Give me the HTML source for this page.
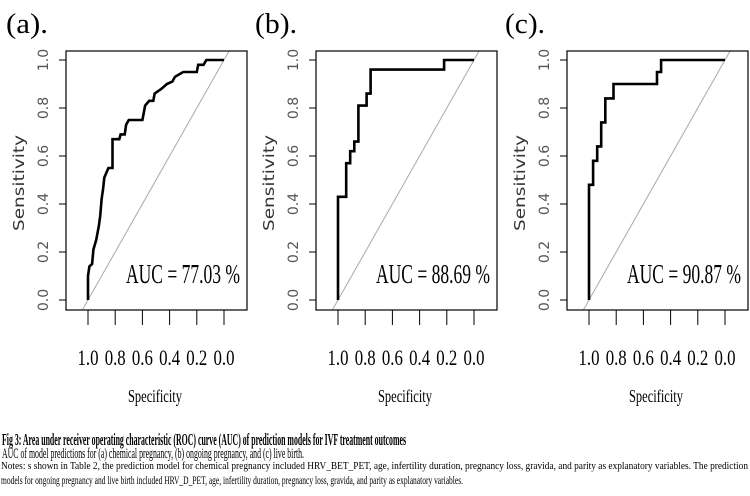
<!DOCTYPE html>
<html><head><meta charset="utf-8"><style>
html,body{margin:0;padding:0;background:#fff;}
svg{display:block;}
</style></head><body>
<svg id="fig" width="750" height="496" viewBox="0 0 750 496" xmlns="http://www.w3.org/2000/svg">
<g font-family="Liberation Serif, serif" fill="#000">
<text x="6" y="33" font-size="28" textLength="42" lengthAdjust="spacingAndGlyphs">(a).</text>
<text x="255" y="33" font-size="28" textLength="42" lengthAdjust="spacingAndGlyphs">(b).</text>
<text x="505" y="33" font-size="28" textLength="40" lengthAdjust="spacingAndGlyphs">(c).</text>
<text x="2" y="445" font-size="16.5" font-weight="bold" textLength="404" lengthAdjust="spacingAndGlyphs">Fig 3: Area under receiver operating characteristic (ROC) curve (AUC) of prediction models for IVF treatment outcomes</text>
<text x="2" y="458" font-size="15" textLength="302" lengthAdjust="spacingAndGlyphs">AUC of model predictions for (a) chemical pregnancy, (b) ongoing pregnancy, and (c) live birth.</text>
<text x="1" y="469" font-size="11" textLength="747" lengthAdjust="spacingAndGlyphs">Notes: s shown in Table 2, the prediction model for chemical pregnancy included HRV_BET_PET, age, infertility duration, pregnancy loss, gravida, and parity as explanatory variables. The prediction</text>
<text x="1" y="484" font-size="11.5" textLength="462" lengthAdjust="spacingAndGlyphs">models for ongoing pregnancy and live birth included HRV_D_PET, age, infertility duration, pregnancy loss, gravida, and parity as explanatory variables.</text>
</g>
</svg>
<script>
// Panel (a) chemical pregnancy
const specA = [1.0,1.0,0.99,0.97,0.96,0.94,0.92,0.91,0.90,0.89,0.88,0.85,0.82,0.82,0.77,0.76,0.73,0.72,0.70,0.60,0.59,0.58,0.55,0.52,0.51,0.46,0.42,0.38,0.36,0.30,0.20,0.19,0.15,0.13,0.0];
const sensA = [0,0.10,0.14,0.15,0.21,0.25,0.31,0.35,0.42,0.46,0.51,0.55,0.55,0.67,0.67,0.69,0.69,0.73,0.75,0.75,0.78,0.81,0.83,0.83,0.86,0.88,0.90,0.91,0.93,0.95,0.95,0.98,0.98,1.0,1.0];
// Panel (b) ongoing pregnancy
const specB = [1,1,0.94,0.94,0.91,0.91,0.88,0.88,0.85,0.85,0.79,0.79,0.76,0.76,0.22,0.22,0];
const sensB = [0,0.43,0.43,0.57,0.57,0.62,0.62,0.66,0.66,0.81,0.81,0.86,0.86,0.96,0.96,1,1];
// Panel (c) live birth
const specC = [1,1,0.97,0.97,0.94,0.94,0.91,0.91,0.88,0.88,0.82,0.82,0.50,0.50,0.47,0.47,0];
const sensC = [0,0.48,0.48,0.58,0.58,0.64,0.64,0.74,0.74,0.84,0.84,0.90,0.90,0.95,0.95,1,1];
const aucLabels = ["AUC = 77.03 %","AUC = 88.69 %","AUC = 90.87 %"];
const tickVals = [1.0,0.8,0.6,0.4,0.2,0.0];
const xTickLabels = ["1.0","0.8","0.6","0.4","0.2","0.0"];
const yTickVals = [0.0,0.2,0.4,0.6,0.8,1.0];
const yTickLabels = ["0.0","0.2","0.4","0.6","0.8","1.0"];

const NS = "http://www.w3.org/2000/svg";
const svg = document.getElementById('fig');
function mk(tag, attrs, parent){
  const e = document.createElementNS(NS, tag);
  for (const k in attrs) e.setAttribute(k, attrs[k]);
  (parent||svg).appendChild(e);
  return e;
}
const panels = [
  {off:0, spec:specA, sens:sensA, id:'a'},
  {off:250, spec:specB, sens:sensB, id:'b'},
  {off:501, spec:specC, sens:sensC, id:'c'}
];
panels.forEach((p, i) => {
  const o = p.off;
  const g = mk('g', {});
  
  
  const bx0 = 66 + o, bx1 = 247 + o, by0 = 51, by1 = 310;
  const X = s => (88 + o) + (1 - s) * 136;
  const Y = v => 300 - v * 240;
  const clip = mk('clipPath', {id:'clip' + p.id}, g);
  mk('rect', {x:bx0, y:by0, width:bx1-bx0, height:by1-by0}, clip);
  const diag = mk('line', {x1:X(1.2), y1:Y(-0.2), x2:X(-0.2), y2:Y(1.2), stroke:'#aaa', 'stroke-width':1, 'clip-path':'url(#clip'+p.id+')'}, g);
  
  
  const box = mk('rect', {x:bx0, y:by0, width:bx1-bx0, height:by1-by0, fill:'none', stroke:'#000', 'stroke-width':1.2}, g);
  
  
  const pts = p.spec.map((s, k) => X(s).toFixed(1) + ',' + Y(p.sens[k]).toFixed(1)).join(' ');
  const curve = mk('polyline', {points:pts, fill:'none', stroke:'#000', 'stroke-width':2.6, 'stroke-linejoin':'miter'}, g);
  
  
  tickVals.forEach((t, k) => {
    const tl = mk('line', {x1:X(t), y1:by1, x2:X(t), y2:325, stroke:'#000', 'stroke-width':1}, g);
    
    
    const tx = mk('text', {x:X(t), y:365, 'font-family':'Liberation Serif, serif', 'font-size':22, 'text-anchor':'middle', textLength:21, lengthAdjust:'spacingAndGlyphs'}, g);
    tx.textContent = xTickLabels[k];
    
    
  });
  yTickVals.forEach((t, k) => {
    const tl = mk('line', {x1:bx0 - 7, y1:Y(t), x2:bx0, y2:Y(t), stroke:'#000', 'stroke-width':1}, g);
    
    
    const tx = mk('text', {x:0, y:0, 'font-family':'DejaVu Sans, sans-serif', 'font-size':14, fill:'#555', 'text-anchor':'middle', transform:'translate(' + (48 + o) + ',' + Y(t) + ') rotate(-90)'}, g);
    tx.textContent = yTickLabels[k];
    
    
  });
  const yl = mk('text', {x:0, y:0, 'font-family':'DejaVu Sans, sans-serif', 'font-size':15, fill:'#333', 'text-anchor':'middle', transform:'translate(' + (24 + o) + ',183) rotate(-90)', textLength:96, lengthAdjust:'spacingAndGlyphs'}, g);
  yl.textContent = 'Sensitivity';
  
  
  const xl = mk('text', {x:155 + o, y:402, 'font-family':'Liberation Serif, serif', 'font-size':18, 'text-anchor':'middle', textLength:54, lengthAdjust:'spacingAndGlyphs'}, g);
  xl.textContent = 'Specificity';
  
  
  const auc = mk('text', {x:240 + o, y:283, 'font-family':'Liberation Serif, serif', 'font-size':27, 'text-anchor':'end', textLength:114, lengthAdjust:'spacingAndGlyphs'}, g);
  auc.textContent = aucLabels[i];
  
  
});
</script>
</body></html>
